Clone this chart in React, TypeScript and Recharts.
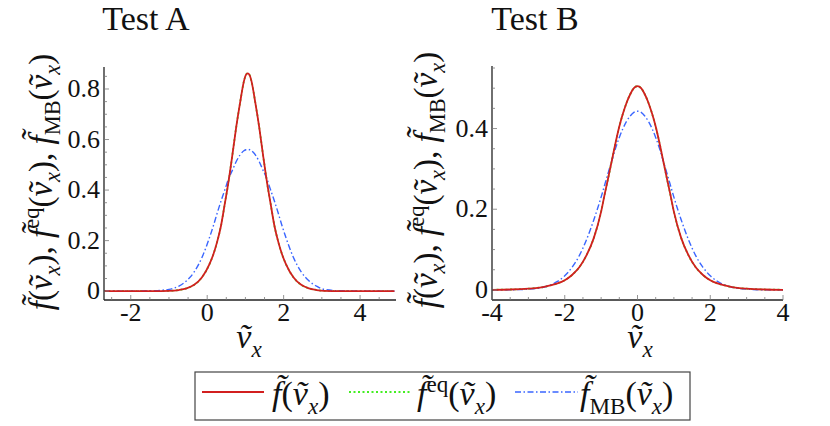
import { LineChart, Line, XAxis, YAxis } from "recharts";

// Test A: velocity grid and the three distributions
const xA = [-2.7, -2.0, -1.5, -1.0, -0.74, -0.54, -0.34, -0.14, 0.06, 0.16, 0.26, 0.36, 0.46, 0.56, 0.66, 0.76, 0.86, 0.96, 1.01, 1.06,
  1.11, 1.16, 1.26, 1.36, 1.46, 1.56, 1.66, 1.76, 1.86, 1.96, 2.06, 2.26, 2.46, 2.66, 2.86, 3.06, 3.56, 4.06, 4.9];
const fA = [0, 0, 0.0002, 0.0013, 0.0045, 0.011, 0.025, 0.054, 0.107, 0.145, 0.195, 0.258, 0.345, 0.435, 0.54, 0.65, 0.745, 0.83, 0.855, 0.862,
  0.855, 0.83, 0.745, 0.65, 0.54, 0.435, 0.345, 0.258, 0.195, 0.145, 0.107, 0.054, 0.025, 0.011, 0.0045, 0.0013, 0.0002, 0, 0];
const feqA = [0, 0, 0.0002, 0.0013, 0.0045, 0.011, 0.025, 0.054, 0.107, 0.145, 0.195, 0.258, 0.345, 0.435, 0.54, 0.65, 0.745, 0.83, 0.855, 0.862,
  0.855, 0.83, 0.745, 0.65, 0.54, 0.435, 0.345, 0.258, 0.195, 0.145, 0.107, 0.054, 0.025, 0.011, 0.0045, 0.0013, 0.0002, 0, 0];
const mbA = [0, 0.0001, 0.0009, 0.007, 0.02, 0.041, 0.076, 0.132, 0.212, 0.258, 0.308, 0.356, 0.4, 0.445, 0.479, 0.513, 0.539, 0.5555, 0.5596, 0.561,
  0.5596, 0.5555, 0.539, 0.513, 0.479, 0.445, 0.4, 0.356, 0.308, 0.258, 0.212, 0.132, 0.076, 0.041, 0.02, 0.007, 0.0009, 0.0001, 0];

// Test B
const xB = [-4, -3.5, -3, -2.8, -2.6, -2.4, -2.2, -2, -1.8, -1.6, -1.4, -1.2, -1, -0.9, -0.8, -0.7, -0.6, -0.5, -0.4, -0.3, -0.2, -0.1, 0,
  0.1, 0.2, 0.3, 0.4, 0.5, 0.6, 0.7, 0.8, 0.9, 1, 1.2, 1.4, 1.6, 1.8, 2, 2.2, 2.4, 2.6, 2.8, 3, 3.5, 4];
const fB = [0.0003, 0.001, 0.003, 0.0045, 0.007, 0.011, 0.016, 0.024, 0.037, 0.056, 0.086, 0.129, 0.194, 0.238, 0.28, 0.323, 0.366, 0.405, 0.437, 0.464, 0.485, 0.5, 0.505,
  0.5, 0.485, 0.464, 0.437, 0.405, 0.366, 0.323, 0.28, 0.238, 0.194, 0.129, 0.086, 0.056, 0.037, 0.024, 0.016, 0.011, 0.007, 0.0045, 0.003, 0.001, 0.0003];
const feqB = [0.0003, 0.001, 0.003, 0.0045, 0.007, 0.011, 0.016, 0.024, 0.037, 0.056, 0.086, 0.129, 0.194, 0.238, 0.28, 0.323, 0.366, 0.405, 0.437, 0.464, 0.485, 0.5, 0.505,
  0.5, 0.485, 0.464, 0.437, 0.405, 0.366, 0.323, 0.28, 0.238, 0.194, 0.129, 0.086, 0.056, 0.037, 0.024, 0.016, 0.011, 0.007, 0.0045, 0.003, 0.001, 0.0003];
const mbB = [0, 0.0003, 0.0018, 0.0035, 0.0065, 0.012, 0.021, 0.035, 0.056, 0.085, 0.125, 0.174, 0.23, 0.261, 0.292, 0.322, 0.352, 0.378, 0.4, 0.418, 0.431, 0.44, 0.443,
  0.44, 0.431, 0.418, 0.4, 0.378, 0.352, 0.322, 0.292, 0.261, 0.23, 0.174, 0.125, 0.085, 0.056, 0.035, 0.021, 0.012, 0.0065, 0.0035, 0.0018, 0.0003, 0];

// ticks (major ones get labels)
const xTicksA = [-2.5, -2, -1.5, -1, -0.5, 0, 0.5, 1, 1.5, 2, 2.5, 3, 3.5, 4, 4.5];
const xTicksB = [-4, -3.5, -3, -2.5, -2, -1.5, -1, -0.5, 0, 0.5, 1, 1.5, 2, 2.5, 3, 3.5, 4];
const xMajor = [-4, -2, 0, 2, 4];
const yTicksA = [0, 0.05, 0.1, 0.15, 0.2, 0.25, 0.3, 0.35, 0.4, 0.45, 0.5, 0.55, 0.6, 0.65, 0.7, 0.75, 0.8, 0.85];
const yTicksB = [0, 0.05, 0.1, 0.15, 0.2, 0.25, 0.3, 0.35, 0.4, 0.45, 0.5, 0.55];
const yMajor = [0, 0.2, 0.4, 0.6, 0.8];

const FONT = "'Liberation Serif', 'DejaVu Serif', serif";
const RED = "#d21f1f";
const GREEN = "#44ee22";
const BLUE = "#3a66ff";

const rows = (xs: number[], f: number[], feq: number[], mb: number[]) =>
  xs.map((x, i) => ({ x, f: f[i], feq: feq[i], mb: mb[i] }));

const near = (v: number, list: number[]) => list.some((m) => Math.abs(m - v) < 1e-6);
const fmt = (v: number) => (v === 0 ? "0" : String(v));
const serif = { fontFamily: FONT };

const XTick = (props: any) => {
  const { x, y, payload } = props;
  const major = near(payload.value, xMajor);
  return (
    <g>
      <line x1={x} x2={x} y1={y} y2={y - (major ? 5 : 3)} stroke="#777" strokeWidth={0.8} />
      {major && (
        <text x={x} y={y + 21} textAnchor="middle" fontSize={26} style={serif} fill="#111">
          {fmt(payload.value)}
        </text>
      )}
    </g>
  );
};

const YTick = (props: any) => {
  const { x, y, payload } = props;
  const major = near(payload.value, yMajor);
  return (
    <g>
      <line x1={x} x2={x + (major ? 5 : 3)} y1={y} y2={y} stroke="#777" strokeWidth={0.8} />
      {major && (
        <text x={x - 4} y={y + 8} textAnchor="end" fontSize={26} style={serif} fill="#111">
          {fmt(payload.value)}
        </text>
      )}
    </g>
  );
};

type Part = { t: string; i?: boolean; s?: "sub" | "sup" };

function MathText({ x, y, size, parts, anchor = "start", transform }: any) {
  let prev = 0;
  return (
    <text x={x} y={y} fontSize={size} style={serif} textAnchor={anchor} transform={transform} fill="#111">
      {(parts as Part[]).map((p, k) => {
        const off = p.s === "sub" ? 0.25 * size : p.s === "sup" ? -0.38 * size : 0;
        const dy = off - prev;
        prev = off;
        return (
          <tspan key={k} dy={dy} fontStyle={p.i ? "italic" : "normal"} fontSize={p.s ? size * 0.68 : size}>
            {p.t}
          </tspan>
        );
      })}
    </text>
  );
}

const fn = (extra?: Part): Part[] => [
  { t: "f\u0303", i: true },
  ...(extra ? [extra] : []),
  { t: "(" },
  { t: "v\u0303", i: true },
  { t: "x", i: true, s: "sub" },
  { t: ")" },
];
const vx: Part[] = [{ t: "v\u0303", i: true }, { t: "x", i: true, s: "sub" }];
const yLabel: Part[] = [...fn(), { t: ", " }, ...fn({ t: "eq", s: "sup" }), { t: ", " }, ...fn({ t: "MB", s: "sub" })];

function Panel({ data, xDomain, yDomain, xTicks, yTicks, margin }: any) {
  return (
    <LineChart width={415} height={360} data={data} margin={margin}>
      <XAxis
        type="number"
        dataKey="x"
        domain={xDomain}
        allowDataOverflow
        ticks={xTicks}
        interval={0}
        tickSize={0}
        tickMargin={0}
        tickLine={false}
        tick={<XTick />}
        height={30}
        axisLine={{ stroke: "#222", strokeWidth: 1.3 }}
      />
      <YAxis
        type="number"
        domain={yDomain}
        allowDataOverflow
        ticks={yTicks}
        interval={0}
        tickSize={0}
        tickMargin={0}
        tickLine={false}
        tick={<YTick />}
        width={40}
        axisLine={{ stroke: "#222", strokeWidth: 1.3 }}
      />
      <Line type="monotone" dataKey="feq" stroke={GREEN} strokeWidth={1.8} strokeDasharray="2 2.5" dot={false} isAnimationActive={false} />
      <Line type="monotone" dataKey="mb" stroke={BLUE} strokeWidth={1.4} strokeDasharray="6 2.5 1.5 2.5" dot={false} isAnimationActive={false} />
      <Line type="monotone" dataKey="f" stroke={RED} strokeWidth={1.8} dot={false} isAnimationActive={false} />
    </LineChart>
  );
}

export default function App() {
  return (
    <div style={{ position: "absolute", left: 0, top: 0, width: 830, height: 426, background: "#fff" }}>
      <div style={{ position: "absolute", left: 0, top: 0 }}>
        <Panel
          data={rows(xA, fA, feqA, mbA)}
          xDomain={[-2.7, 4.94]}
          yDomain={[-0.035, 0.887]}
          xTicks={xTicksA}
          yTicks={yTicksA}
          margin={{ top: 67, right: 19, bottom: 30, left: 64 }}
        />
      </div>
      <div style={{ position: "absolute", left: 415, top: 0 }}>
        <Panel
          data={rows(xB, fB, feqB, mbB)}
          xDomain={[-4, 4]}
          yDomain={[-0.025, 0.555]}
          xTicks={xTicksB}
          yTicks={yTicksB}
          margin={{ top: 66, right: 47, bottom: 30, left: 37 }}
        />
      </div>
      <svg width={830} height={426} style={{ position: "absolute", left: 0, top: 0, pointerEvents: "none" }}>
        <text x={146} y={30} textAnchor="middle" fontSize={34} style={serif} fill="#111">Test A</text>
        <text x={535} y={30} textAnchor="middle" fontSize={34} style={serif} fill="#111">Test B</text>
        <MathText x={0} y={0} size={33} parts={yLabel} anchor="middle" transform="translate(52,182) rotate(-90)" />
        <MathText x={0} y={0} size={33} parts={yLabel} anchor="middle" transform="translate(437,180) rotate(-90)" />
        <MathText x={249} y={348} size={34} parts={vx} anchor="middle" />
        <MathText x={640} y={348} size={34} parts={vx} anchor="middle" />
        <rect x={195} y={372} width={495} height={48} fill="none" stroke="#444" strokeWidth={1.2} />
        <line x1={202} x2={264} y1={392} y2={392} stroke={RED} strokeWidth={1.8} />
        <line x1={349} x2={411} y1={392} y2={392} stroke={GREEN} strokeWidth={1.8} strokeDasharray="2 2.5" />
        <line x1={515} x2={578} y1={392} y2={392} stroke={BLUE} strokeWidth={1.4} strokeDasharray="6 2.5 1.5 2.5" />
        <MathText x={272} y={405} size={34} parts={fn()} />
        <MathText x={417} y={405} size={34} parts={fn({ t: "eq", s: "sup" })} />
        <MathText x={580} y={405} size={34} parts={fn({ t: "MB", s: "sub" })} />
      </svg>
    </div>
  );
}
